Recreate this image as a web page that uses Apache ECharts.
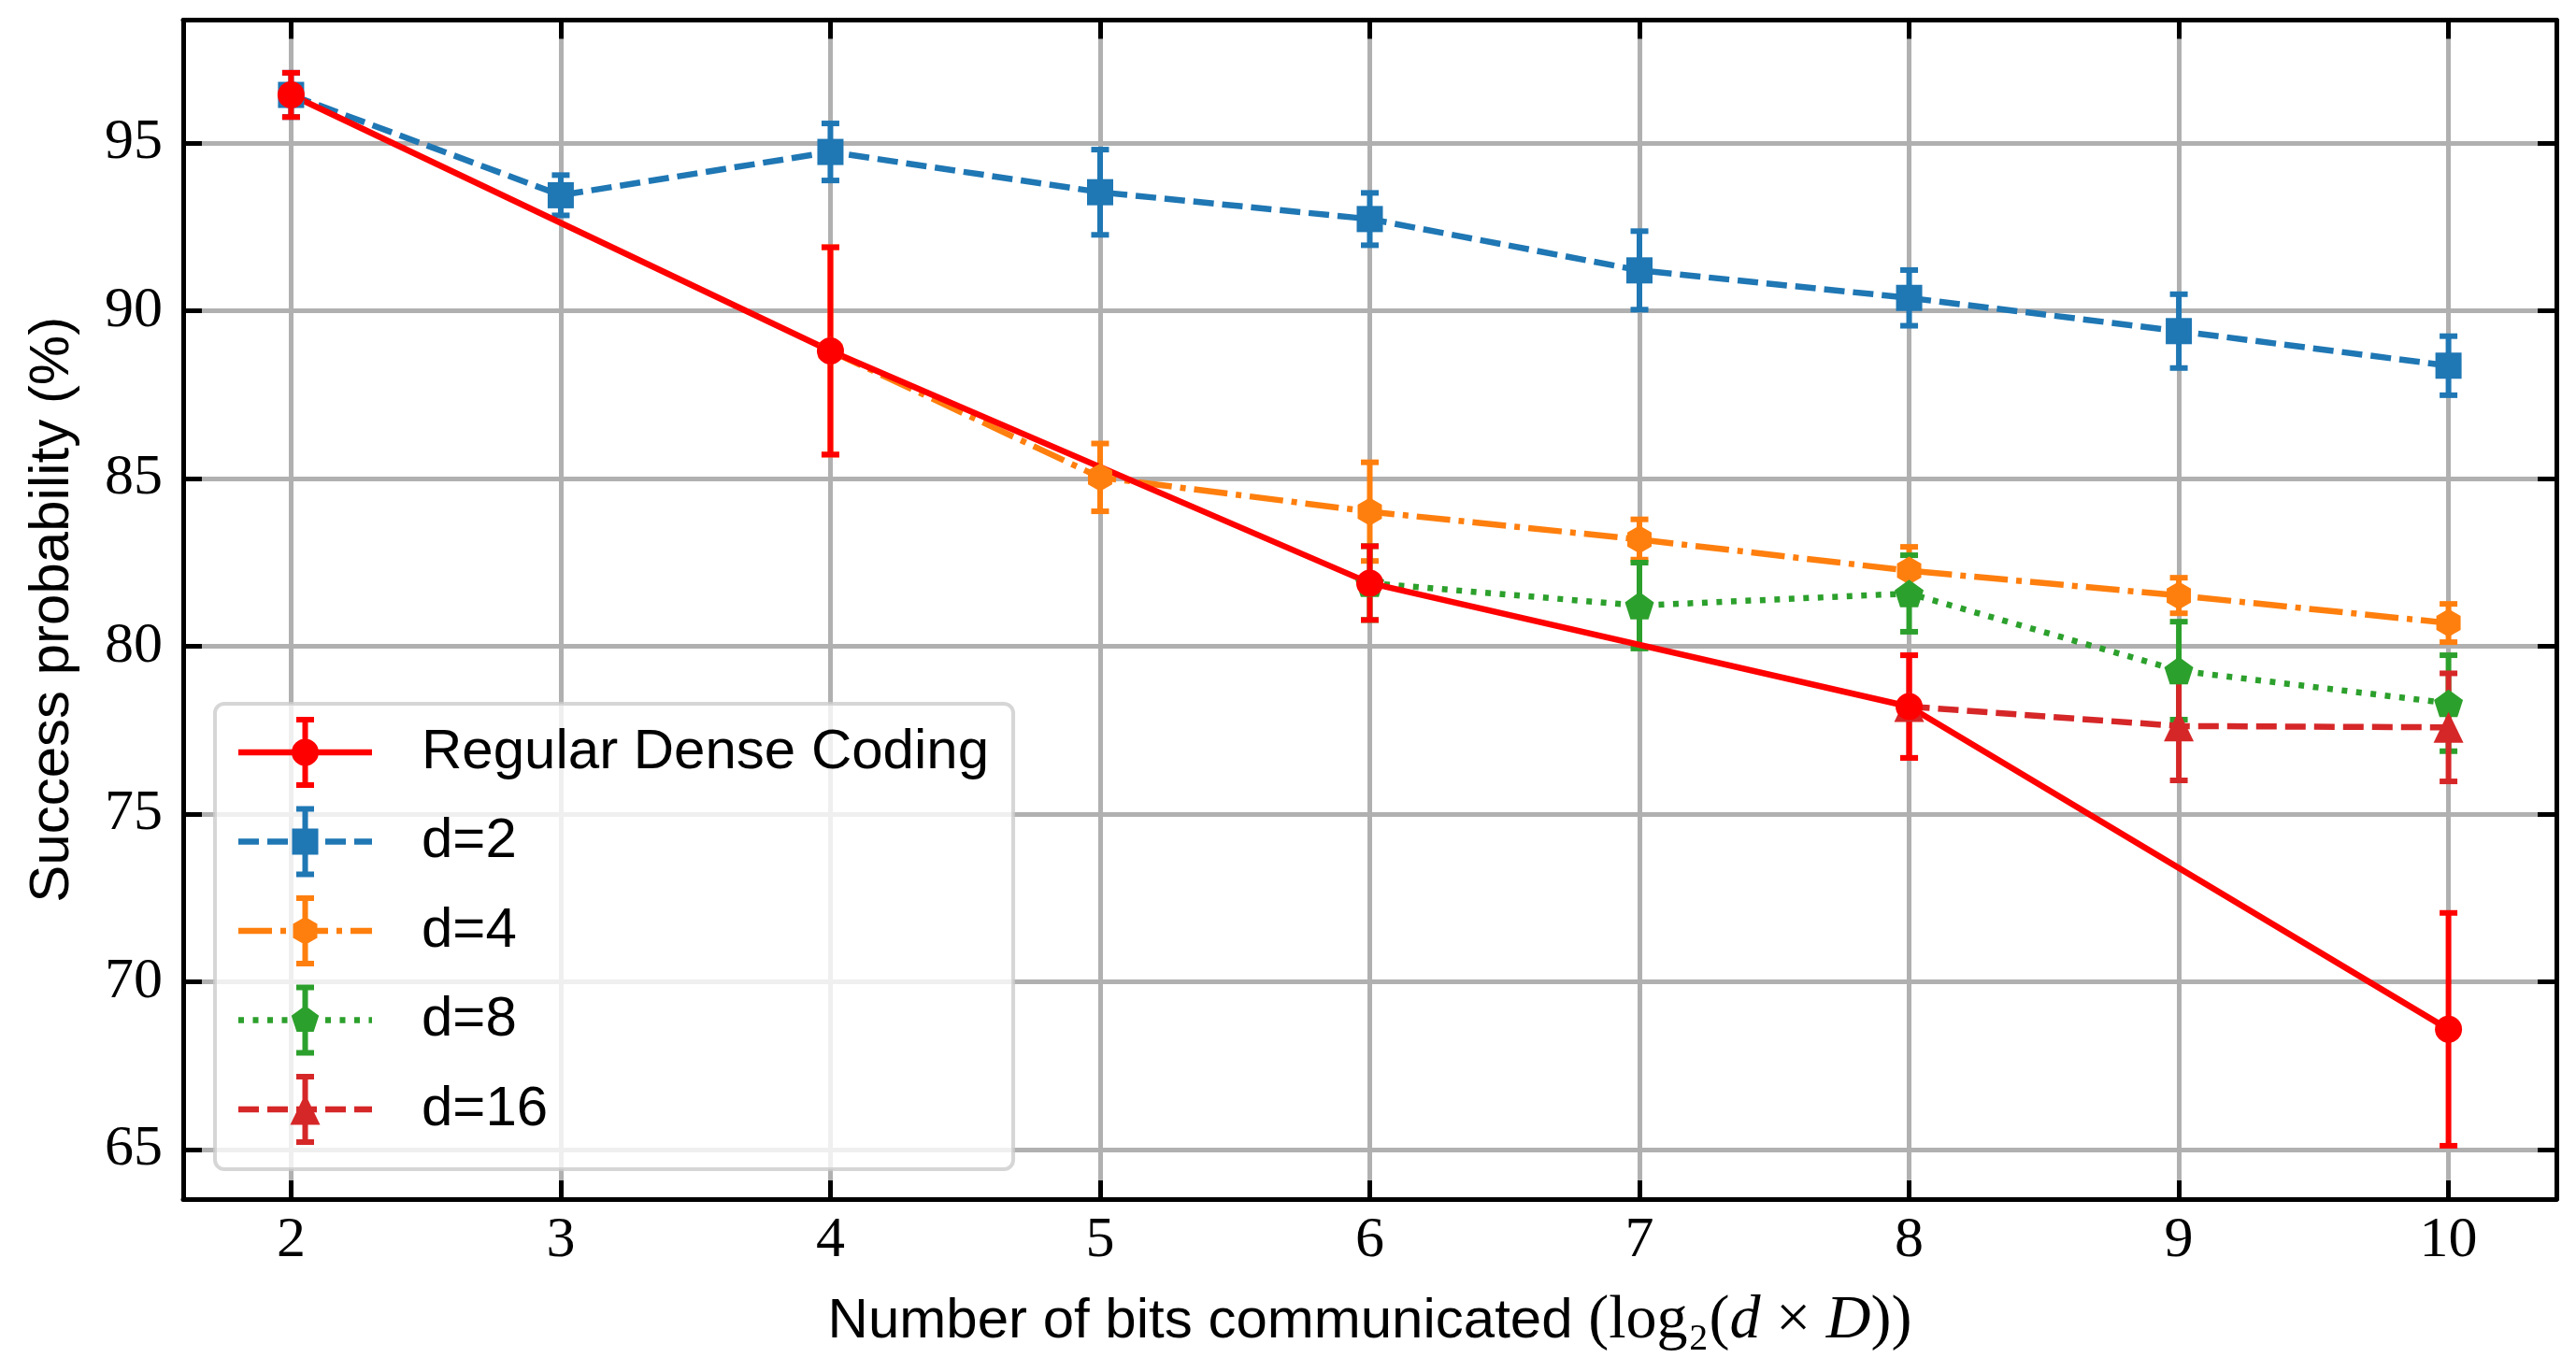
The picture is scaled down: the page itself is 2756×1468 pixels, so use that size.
<!DOCTYPE html>
<html>
<head>
<meta charset="utf-8">
<script src="https://cdn.jsdelivr.net/npm/echarts@6/dist/echarts.min.js"></script>
<style>
html,body{margin:0;padding:0;background:#ffffff;}
#chart{width:2756px;height:1468px;}
</style>
</head>
<body>
<div id="chart"></div>
<script>
// ---------------- data ----------------
const seriesNames = ['Regular Dense Coding', 'd=2', 'd=4', 'd=8', 'd=16'];
const xTicks = [2, 3, 4, 5, 6, 7, 8, 9, 10];
const yTicks = [65, 70, 75, 80, 85, 90, 95];

const rdcX = [2, 4, 6, 8, 10];
const rdcY = [96.43, 88.80, 81.88, 78.20, 68.58];
const rdcErr = [0.66, 3.09, 1.10, 1.53, 3.47];

const d2X = [2, 3, 4, 5, 6, 7, 8, 9, 10];
const d2Y = [96.43, 93.44, 94.73, 93.53, 92.73, 91.20, 90.38, 89.39, 88.36];
const d2Err = [0.66, 0.60, 0.85, 1.27, 0.78, 1.17, 0.83, 1.10, 0.88];

const d4X = [4, 5, 6, 7, 8, 9, 10];
const d4Y = [88.80, 85.03, 84.01, 83.18, 82.25, 81.51, 80.69];
const d4Err = [3.09, 1.01, 1.47, 0.60, 0.71, 0.53, 0.57];

const d8X = [6, 7, 8, 9, 10];
const d8Y = [81.88, 81.21, 81.57, 79.27, 78.30];
const d8Err = [1.10, 1.28, 1.14, 1.46, 1.43];

const d16X = [8, 9, 10];
const d16Y = [78.20, 77.62, 77.58];
const d16Err = [1.53, 1.62, 1.61];

// ---------------- styles ----------------
const colors = ['#ff0000', '#1f77b4', '#ff7f0e', '#2ca02c', '#d62728'];
const dashes = [null, [22, 9], [36, 9, 6, 9], [6, 9.5], [22, 9]];
const LW = 6.5;
const ELW = 6;

const hexPath = 'path://M0,-1L0.866,-0.5L0.866,0.5L0,1L-0.866,0.5L-0.866,-0.5Z';
const pentPath = 'path://M0,-1L0.951,-0.309L0.588,0.809L-0.588,0.809L-0.951,-0.309Z';
const symbols = ['circle', 'rect', hexPath, pentPath, 'triangle'];
const symbolSizes = [29, 28, 30, 31, [32, 33]];

// ---------------- legend icons (line + marker + error bar) ----------------
function rectP(x0, y0, x1, y1) { return 'M' + x0 + ' ' + y0 + 'H' + x1 + 'V' + y1 + 'H' + x0 + 'Z'; }
function polyP(pts) { return 'M' + pts.map(p => p[0].toFixed(2) + ' ' + p[1].toFixed(2)).join('L') + 'Z'; }
function regPoly(cx, cy, r, n, start) {
  const pts = [];
  for (let k = 0; k < n; k++) {
    const a = (start + k * 360 / n) * Math.PI / 180;
    pts.push([cx + r * Math.cos(a), cy + r * Math.sin(a)]);
  }
  return polyP(pts);
}
function markerPath(kind, cx, cy) {
  if (kind === 0) { const r = 14.5; return 'M' + (cx - r) + ' ' + cy + 'A' + r + ' ' + r + ' 0 1 1 ' + (cx + r) + ' ' + cy + 'A' + r + ' ' + r + ' 0 1 1 ' + (cx - r) + ' ' + cy + 'Z'; }
  if (kind === 1) return rectP(cx - 14, cy - 14, cx + 14, cy + 14);
  if (kind === 2) return regPoly(cx, cy, 15, 6, -90);
  if (kind === 3) return regPoly(cx, cy, 15.5, 5, -90);
  return polyP([[cx, cy - 16.5], [cx + 16, cy + 16.5], [cx - 16, cy + 16.5]]);
}
function legendIcon(i) {
  const W = 143, H = 76, cx = 71.5, cy = 38, h = LW / 2;
  let d = '';
  const dash = dashes[i];
  if (!dash) {
    d += rectP(0, cy - h, W, cy + h);
  } else {
    let x = 0, k = 0, reach = 0;
    while (x < W) {
      const len = dash[k % dash.length];
      if (k % 2 === 0) { const e = Math.min(x + len, W); d += rectP(x, cy - h, e, cy + h); reach = e; }
      x += len; k++;
    }
    if (reach < W) d += rectP(W - 0.5, cy - h, W, cy + h);
  }
  d += rectP(cx - 3, 0, cx + 3, H);
  d += rectP(cx - 9.5, 0, cx + 9.5, 6);
  d += rectP(cx - 9.5, H - 6, cx + 9.5, H);
  d += markerPath(i, cx, cy);
  return 'path://' + d;
}

// ---------------- series ----------------
const allX = [rdcX, d2X, d4X, d8X, d16X];
const allY = [rdcY, d2Y, d4Y, d8Y, d16Y];
const allErr = [rdcErr, d2Err, d4Err, d8Err, d16Err];

function errRenderer(color) {
  return function (params, api) {
    const x = api.value(0), lo = api.value(1), hi = api.value(2);
    const p1 = api.coord([x, lo]);
    const p2 = api.coord([x, hi]);
    const cw = 9.5;
    const st = { stroke: color, lineWidth: ELW, fill: null };
    return {
      type: 'group',
      children: [
        { type: 'line', shape: { x1: p1[0], y1: p1[1], x2: p2[0], y2: p2[1] }, style: st },
        { type: 'line', shape: { x1: p1[0] - cw, y1: p1[1], x2: p1[0] + cw, y2: p1[1] }, style: st },
        { type: 'line', shape: { x1: p2[0] - cw, y1: p2[1], x2: p2[0] + cw, y2: p2[1] }, style: st }
      ]
    };
  };
}

const drawOrder = [1, 2, 3, 4, 0];
const series = [];
drawOrder.forEach(i => {
  series.push({
    type: 'custom',
    name: seriesNames[i] + ' err',
    renderItem: errRenderer(colors[i]),
    data: allX[i].map((x, j) => [x, allY[i][j] - allErr[i][j], allY[i][j] + allErr[i][j]]),
    encode: { x: 0, y: [1, 2] },
    z: 2,
    silent: true,
    animation: false
  });
});
drawOrder.forEach(i => {
  series.push({
    type: 'line',
    name: seriesNames[i],
    data: allX[i].map((x, j) => [x, allY[i][j]]),
    symbol: symbols[i],
    symbolSize: symbolSizes[i],
    symbolKeepAspect: true,
    showSymbol: true,
    showAllSymbol: true,
    lineStyle: { color: colors[i], width: LW, type: dashes[i] ? dashes[i] : 'solid', cap: 'butt' },
    itemStyle: { color: colors[i], borderWidth: 0 },
    emphasis: { disabled: true },
    z: 3,
    silent: true,
    animation: false
  });
});

// ---------------- axes ----------------
const axisLineStyle = { show: true, onZero: false, lineStyle: { color: '#000000', width: 5 } };
const axisTickStyle = { show: true, inside: true, length: 20, lineStyle: { color: '#000000', width: 5 } };
const tickFont = { fontFamily: 'Liberation Serif', fontSize: 62, color: '#000000' };
const gridLine = { show: true, lineStyle: { color: '#b0b0b0', width: 5 } };

const chart = echarts.init(document.getElementById('chart'), null, { renderer: 'canvas' });
chart.setOption({
  animation: false,
  backgroundColor: '#ffffff',
  grid: { left: 196, right: 21, top: 21.5, bottom: 185, containLabel: false },
  xAxis: [
    {
      type: 'value', min: 1.6, max: 10.4, splitNumber: 8, position: 'bottom',
      axisLine: axisLineStyle, axisTick: axisTickStyle, splitLine: gridLine,
      axisLabel: Object.assign({
        margin: 14, showMinLabel: false, showMaxLabel: false,
        formatter: v => (xTicks.indexOf(v) >= 0 ? String(v) : '')
      }, tickFont),
      name: '{s|Number of bits communicated }{m|(log₂(}{i|d}{m| × }{i|D}{m|))}',
      nameLocation: 'middle', nameGap: 98,
      nameTextStyle: {
        rich: {
          s: { fontFamily: 'Liberation Sans', fontSize: 60, color: '#000000' },
          m: { fontFamily: 'Liberation Serif', fontSize: 66, color: '#000000' },
          i: { fontFamily: 'Liberation Serif', fontStyle: 'italic', fontSize: 66, color: '#000000' }
        }
      }
    },
    {
      type: 'value', min: 1.6, max: 10.4, splitNumber: 8, position: 'top',
      axisLine: axisLineStyle, axisTick: axisTickStyle,
      splitLine: { show: false }, axisLabel: { show: false }
    }
  ],
  yAxis: [
    {
      type: 'value', min: 63.52, max: 98.66, splitNumber: 7, position: 'left',
      axisLine: axisLineStyle, axisTick: axisTickStyle, splitLine: gridLine,
      axisLabel: Object.assign({
        margin: 22, showMinLabel: false, showMaxLabel: false,
        formatter: v => (yTicks.indexOf(v) >= 0 ? String(v) : '')
      }, tickFont),
      name: 'Success probability (%)',
      nameLocation: 'middle', nameGap: 110,
      nameTextStyle: { fontFamily: 'Liberation Sans', fontSize: 60, color: '#000000' }
    },
    {
      type: 'value', min: 63.52, max: 98.66, splitNumber: 7, position: 'right',
      axisLine: axisLineStyle, axisTick: axisTickStyle,
      splitLine: { show: false }, axisLabel: { show: false }
    }
  ],
  legend: {
    show: true,
    orient: 'vertical',
    left: 230, top: 753,
    padding: [14, 26, 26, 25],
    itemGap: 19.5,
    itemWidth: 143, itemHeight: 76,
    backgroundColor: 'rgba(255,255,255,0.8)',
    borderColor: 'rgba(204,204,204,0.8)',
    borderWidth: 4,
    borderRadius: 10,
    selectedMode: false,
    itemStyle: { borderWidth: 0 },
    textStyle: { fontFamily: 'Liberation Sans', fontSize: 60, color: '#000000', padding: [8, 0, 0, 48] },
    data: seriesNames.map((n, i) => ({ name: n, icon: legendIcon(i) })),
    z: 10
  },
  series: series
});
</script>
</body>
</html>
